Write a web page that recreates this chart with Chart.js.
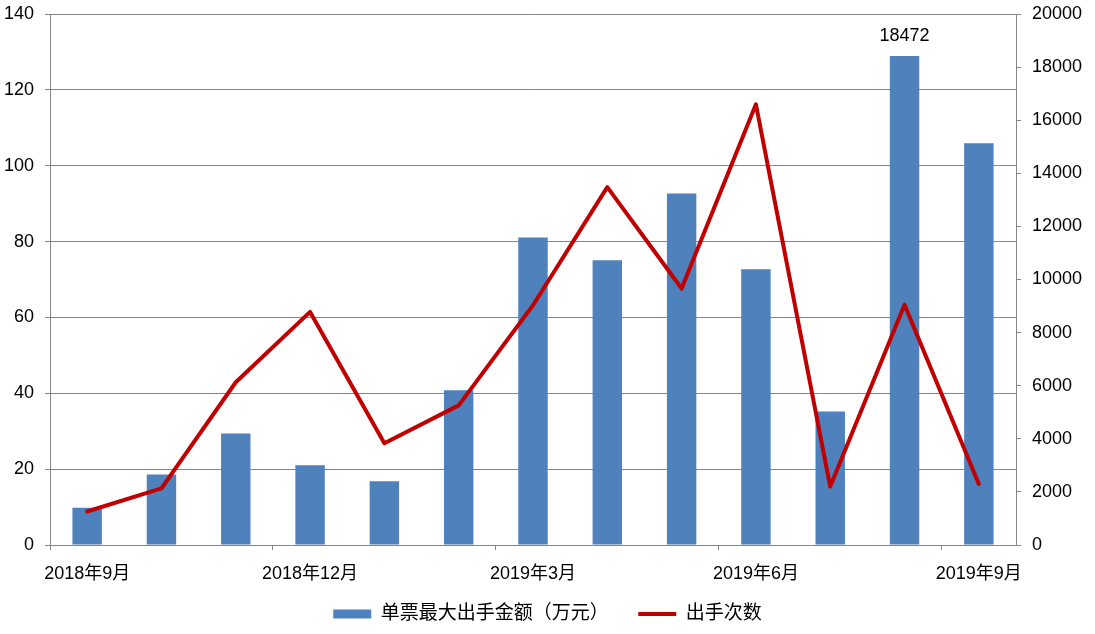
<!DOCTYPE html>
<html>
<head>
<meta charset="utf-8">
<script src="https://cdn.jsdelivr.net/npm/chart.js@4/dist/chart.umd.min.js"></script>
<style>
  html, body { margin: 0; padding: 0; background: #fff; }
  #wrap { width: 1095px; height: 634px; position: relative; }
</style>
</head>
<body>
<div id="wrap"><canvas id="c" width="1095" height="634"></canvas></div>
<script>
const categories = ["2018年9月","2018年10月","2018年11月","2018年12月","2019年1月","2019年2月","2019年3月","2019年4月","2019年5月","2019年6月","2019年7月","2019年8月","2019年9月"];
const barLabel = "单票最大出手金额（万元）";
const lineLabel = "出手次数";
const barValues = [9.8, 18.6, 29.4, 21.0, 16.8, 40.8, 81.1, 75.1, 92.7, 72.7, 35.2, 128.9, 105.9];
const lineValues = [1263, 2130, 6130, 8780, 3830, 5260, 9030, 13480, 9660, 16600, 2200, 9050, 2300];
const barDataLabels = [null, null, null, null, null, null, null, null, null, null, null, "18472", null];
const leftTicks = { min: 0, max: 140, step: 20 };
const rightTicks = { min: 0, max: 20000, step: 2000 };

const FONT = "'Liberation Sans', 'Noto Sans CJK SC', sans-serif";
const GRID = "#868686";
const BLUE = "#4F81BD";
const RED = "#C00000";

const dataLabelPlugin = {
  id: 'dataLabel',
  afterDatasetsDraw(chart) {
    const meta = chart.getDatasetMeta(0);
    const ctx = chart.ctx;
    ctx.save();
    ctx.font = "18px " + FONT;
    ctx.fillStyle = "#000";
    ctx.textAlign = "center";
    ctx.textBaseline = "middle";
    barDataLabels.forEach((t, i) => {
      if (!t) return;
      const el = meta.data[i];
      ctx.fillText(t, el.x, el.y - 20);
    });
    ctx.restore();
  }
};

new Chart(document.getElementById('c'), {
  data: {
    labels: categories,
    datasets: [
      {
        type: 'bar',
        label: barLabel,
        data: barValues,
        yAxisID: 'y',
        backgroundColor: BLUE,
        borderWidth: 0,
        categoryPercentage: 1,
        barPercentage: 0.396,
        order: 1
      },
      {
        type: 'line',
        label: lineLabel,
        data: lineValues,
        yAxisID: 'y2',
        borderColor: RED,
        backgroundColor: RED,
        borderWidth: 4,
        pointRadius: 0,
        tension: 0,
        borderJoinStyle: 'round',
        borderCapStyle: 'round',
        order: 0
      }
    ]
  },
  options: {
    responsive: false,
    animation: false,
    layout: { padding: { top: 14, bottom: 0.5, left: 0, right: 0 } },
    plugins: {
      tooltip: { enabled: false },
      legend: {
        position: 'bottom',
        labels: {
          font: { size: 19, family: FONT },
          color: '#000',
          padding: 20,
          usePointStyle: true,
          pointStyleWidth: 38,
          boxHeight: 9,
          generateLabels: (chart) => chart.data.datasets.map((ds, i) => ({
            text: ds.type === 'line' ? ds.label : ds.label + '\u3000',
            fillStyle: ds.type === 'line' ? 'rgba(0,0,0,0)' : ds.backgroundColor,
            strokeStyle: ds.type === 'line' ? ds.borderColor : ds.backgroundColor,
            lineWidth: ds.type === 'line' ? 4 : 0,
            pointStyle: ds.type === 'line' ? 'line' : 'rect',
            rotation: 0,
            hidden: false,
            datasetIndex: i,
            fontColor: '#000'
          }))
        }
      }
    },
    scales: {
      x: {
        type: 'category',
        offset: true,
        afterFit: (s) => { s.height = 39.5; s.paddingLeft = 0; s.paddingRight = 0; },
        grid: {
          offset: true,
          drawOnChartArea: false,
          drawTicks: true,
          tickLength: 5,
          color: (c) => (c.index !== undefined && c.index % 3 === 0) ? GRID : 'rgba(0,0,0,0)'
        },
        border: { display: true, color: GRID, width: 1 },
        ticks: {
          autoSkip: false,
          maxRotation: 0,
          minRotation: 0,
          padding: 13,
          color: '#000',
          font: { size: 18, family: FONT },
          callback: function(v, i) { return i % 3 === 0 ? categories[i] : ''; }
        }
      },
      y: {
        position: 'left',
        min: leftTicks.min,
        max: leftTicks.max,
        afterFit: (s) => { s.width = 50; s.paddingTop = 0; s.paddingBottom = 0; },
        grid: { color: GRID, tickLength: 5, drawTicks: true },
        border: { display: true, color: GRID, width: 1 },
        ticks: {
          stepSize: leftTicks.step,
          padding: 11,
          color: '#000',
          font: { size: 18, family: FONT },
          callback: (v) => String(v)
        }
      },
      y2: {
        position: 'right',
        min: rightTicks.min,
        max: rightTicks.max,
        afterFit: (s) => { s.width = 79; s.paddingTop = 0; s.paddingBottom = 0; },
        grid: { drawOnChartArea: false, color: GRID, tickLength: 5, drawTicks: true },
        border: { display: true, color: GRID, width: 1 },
        ticks: {
          stepSize: rightTicks.step,
          padding: 11,
          color: '#000',
          font: { size: 18, family: FONT },
          callback: (v) => String(v)
        }
      }
    }
  },
  plugins: [dataLabelPlugin]
});
</script>
</body>
</html>
